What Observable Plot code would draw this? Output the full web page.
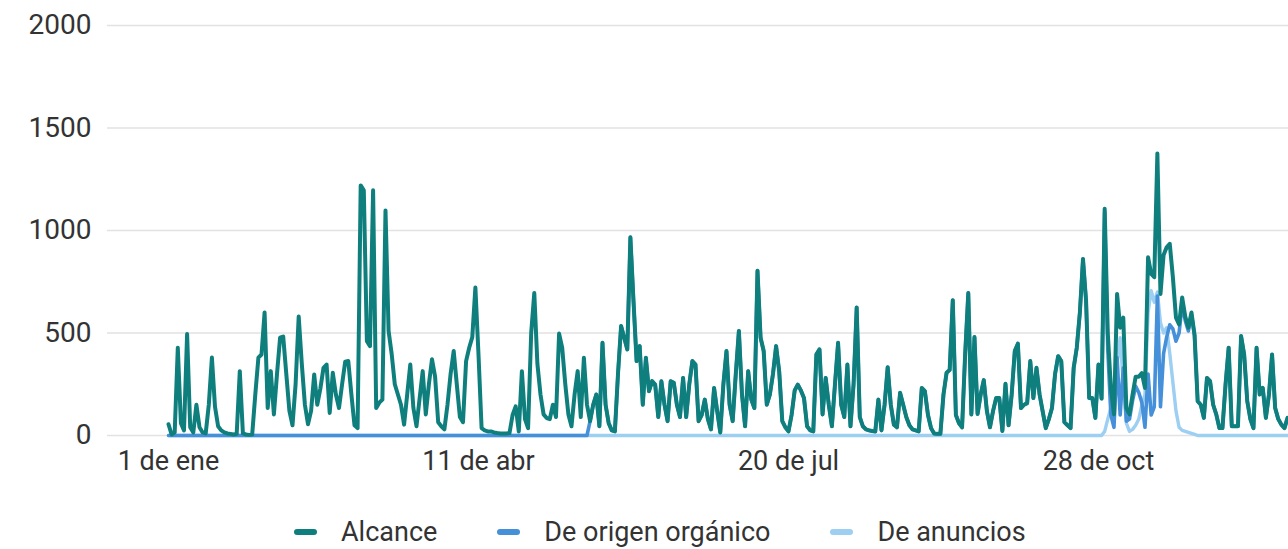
<!DOCTYPE html>
<html>
<head>
<meta charset="utf-8">
<script src="https://cdn.jsdelivr.net/npm/d3@7"></script>
<script src="https://cdn.jsdelivr.net/npm/@observablehq/plot@0.6"></script>
<style>
  html, body { margin: 0; padding: 0; background: #fff; overflow: hidden; }
  body { width: 1288px; height: 549px; font-family: Roboto, "Noto Sans", sans-serif; }
  #chart svg { display: block; }
  #legend { height: 59px; box-sizing: border-box; padding-top: 25px; padding-left: 294px;
            display: flex; align-items: center; font-size: 27px; color: #333; line-height: 30px; }
  .item { display: flex; align-items: center; margin-right: 60px; white-space: nowrap; }
  .sw { width: 23px; height: 6px; border-radius: 3px; margin-right: 24px; }
</style>
</head>
<body>
<div id="chart"></div>
<div id="legend"></div>
<script>
// ---------- data ----------
const startDate = "2023-01-01";
const seriesNames = ["Alcance", "De origen orgánico", "De anuncios"];
const seriesColors = ["#0f7f7d", "#4690da", "#9dcff3"];
const yTicks = [0, 500, 1000, 1500, 2000];
const xTickDates = ["2023-01-01", "2023-04-11", "2023-07-20", "2023-10-28"];
const xTickLabels = ["1 de ene", "11 de abr", "20 de jul", "28 de oct"];

// daily values from 1 Jan
const alcance = [
  55,5,15,428,60,25,495,40,15,150,
  40,15,10,150,380,140,45,25,15,10,
  8,5,8,314,10,5,3,5,200,380,
  395,600,134,314,103,300,477,483,300,120,
  50,250,580,350,150,55,120,298,150,230,
  330,346,110,306,200,134,250,360,363,200,
  50,36,1220,1196,460,436,1196,134,160,175,
  1098,510,397,250,200,150,53,200,346,134,
  45,180,314,103,250,372,287,65,45,30,
  150,300,412,250,90,65,363,428,480,722,
  395,36,25,20,20,15,12,10,10,10,
  12,100,142,20,314,80,36,500,695,350,
  200,103,85,80,150,90,497,428,250,103,
  45,200,314,90,379,150,70,150,200,45,
  452,150,60,25,20,300,534,477,420,967,
  657,363,436,150,379,216,265,248,90,265,
  150,70,265,257,150,90,281,90,250,363,
  346,70,100,175,80,30,232,120,15,250,
  412,150,70,300,510,200,45,314,175,134,
  804,477,412,150,200,300,436,314,70,40,
  20,100,220,248,220,183,45,25,20,395,
  420,103,281,150,45,250,452,150,90,346,
  45,250,624,90,45,30,25,22,20,175,
  25,150,333,150,53,40,208,150,90,50,
  30,25,20,232,216,100,35,10,8,8,
  200,306,320,660,100,60,40,400,695,103,
  480,105,200,270,120,40,120,183,183,22,
  252,50,200,412,448,134,150,158,363,183,
  330,200,118,36,80,134,300,387,363,65,
  50,36,330,428,600,861,657,183,183,86,
  346,180,1106,500,232,103,690,526,575,134,
  103,200,287,287,304,232,869,788,772,1376,
  690,880,918,935,772,575,542,673,580,526,
  600,490,167,150,86,281,265,150,103,36,
  36,250,428,45,45,45,485,395,167,80,
  36,428,200,232,86,200,395,134,80,53,
  36,86
];

const organico = [
  0,0,0,0,0,0,0,0,0,0, 0,0,0,0,0,0,0,0,0,0,
  0,0,0,0,0,0,0,0,0,0, 0,0,0,0,0,0,0,0,0,0,
  0,0,0,0,0,0,0,0,0,0, 0,0,0,0,0,0,0,0,0,0,
  0,0,0,0,0,0,0,0,0,0, 0,0,0,0,0,0,0,0,0,0,
  0,0,0,0,0,0,0,0,0,0, 0,0,0,0,0,0,0,0,0,0,
  0,0,0,0,0,0,0,0,0,0, 0,0,0,0,0,0,0,0,0,0,
  0,0,0,0,0,0,0,0,0,0, 0,0,0,0,0,0,70,150,200,45,
  452,150,60,25,20,300,534,477,420,967,
  657,363,436,150,379,216,265,248,90,265,
  150,70,265,257,150,90,281,90,250,363,
  346,70,100,175,80,30,232,120,15,250,
  412,150,70,300,510,200,45,314,175,134,
  804,477,412,150,200,300,436,314,70,40,
  20,100,220,248,220,183,45,25,20,395,
  420,103,281,150,45,250,452,150,90,346,
  45,250,624,90,45,30,25,22,20,175,
  25,150,333,150,53,40,208,150,90,50,
  30,25,20,232,216,100,35,10,8,8,
  200,306,320,660,100,60,40,400,695,103,
  480,105,200,270,120,40,120,183,183,22,
  252,50,200,412,448,134,150,158,363,183,
  330,200,118,36,80,134,300,387,363,65,
  50,36,330,428,600,861,657,183,183,86,
  346,180,1090,420,100,40,380,100,330,70,
  80,170,240,210,160,40,300,100,140,680,
  140,400,480,540,520,460,500,640,560,510,
  590,485,167,150,86,281,265,150,103,36,
  36,250,428,45,45,45,485,395,167,80,
  36,428,200,232,86,200,395,134,80,53,
  36,86
];

const anuncios = [
  0,0,0,0,0,0,0,0,0,0, 0,0,0,0,0,0,0,0,0,0,
  0,0,0,0,0,0,0,0,0,0, 0,0,0,0,0,0,0,0,0,0,
  0,0,0,0,0,0,0,0,0,0, 0,0,0,0,0,0,0,0,0,0,
  0,0,0,0,0,0,0,0,0,0, 0,0,0,0,0,0,0,0,0,0,
  0,0,0,0,0,0,0,0,0,0, 0,0,0,0,0,0,0,0,0,0,
  0,0,0,0,0,0,0,0,0,0, 0,0,0,0,0,0,0,0,0,0,
  0,0,0,0,0,0,0,0,0,0, 0,0,0,0,0,0,0,0,0,0,
  0,0,0,0,0,0,0,0,0,0, 0,0,0,0,0,0,0,0,0,0,
  0,0,0,0,0,0,0,0,0,0, 0,0,0,0,0,0,0,0,0,0,
  0,0,0,0,0,0,0,0,0,0, 0,0,0,0,0,0,0,0,0,0,
  0,0,0,0,0,0,0,0,0,0, 0,0,0,0,0,0,0,0,0,0,
  0,0,0,0,0,0,0,0,0,0, 0,0,0,0,0,0,0,0,0,0,
  0,0,0,0,0,0,0,0,0,0, 0,0,0,0,0,0,0,0,0,0,
  0,0,0,0,0,0,0,0,0,0, 0,0,0,0,0,0,0,0,0,0,
  0,0,0,0,0,0,0,0,0,0, 0,0,0,0,0,0,0,0,0,0,
  0,0,20,80,134,70,350,477,250,60,
  20,30,50,80,150,200,600,706,650,700,
  550,500,526,400,260,120,40,25,20,15,
  10,5,0,0,0,0,0,0,0,0,
  0,0,0,0,0,0,0,0,0,0,
  0,0,0,0,0,0,0,0,0,0,
  0,0
];

// ---------- build table ----------
const t0 = new Date(startDate + "T00:00:00Z");
function rowsFor(values, name) {
  return values.map((v, i) => ({date: d3.utcDay.offset(t0, i), value: v, series: name}));
}
const tickDates = xTickDates.map(s => new Date(s + "T00:00:00Z"));
const labelOf = new Map(tickDates.map((d, i) => [d.getTime(), xTickLabels[i]]));
const xEnd = new Date(t0.getTime() + 361.3 * 864e5);

const lineOpts = {x: "date", y: "value", stroke: "series", strokeLinejoin: "round", strokeLinecap: "round"};

const chart = Plot.plot({
  width: 1288,
  height: 490,
  marginLeft: 107,
  marginRight: 0,
  marginTop: 25,
  marginBottom: 55,
  style: {fontFamily: "Roboto, sans-serif", color: "#333", background: "#fff", overflow: "visible"},
  x: {type: "utc", domain: [t0, xEnd], range: [168, 1288], label: null},
  y: {domain: [0, 2000], label: null},
  color: {domain: seriesNames, range: seriesColors},
  marks: [
    Plot.gridY(yTicks, {stroke: "#e2e2e2", strokeOpacity: 1, strokeWidth: 1.6}),
    Plot.axisY(yTicks, {tickSize: 0, tickPadding: 16, fontSize: 28, label: null, tickFormat: d => String(d)}),
    Plot.axisX(tickDates, {tickSize: 0, tickPadding: 15, fontSize: 27, label: null,
                           tickFormat: d => labelOf.get(d.getTime())}),
    Plot.line(rowsFor(anuncios, seriesNames[2]), {...lineOpts, strokeWidth: 3.4}),
    Plot.line(rowsFor(organico, seriesNames[1]), {...lineOpts, strokeWidth: 3.6}),
    Plot.line(rowsFor(alcance, seriesNames[0]), {...lineOpts, strokeWidth: 4})
  ]
});
document.getElementById("chart").appendChild(chart);

// ---------- legend ----------
const legend = document.getElementById("legend");
seriesNames.forEach((name, i) => {
  const item = document.createElement("div");
  item.className = "item";
  const sw = document.createElement("span");
  sw.className = "sw";
  sw.style.background = seriesColors[i];
  const tx = document.createElement("span");
  tx.textContent = name;
  item.appendChild(sw);
  item.appendChild(tx);
  legend.appendChild(item);
});
</script>
</body>
</html>
